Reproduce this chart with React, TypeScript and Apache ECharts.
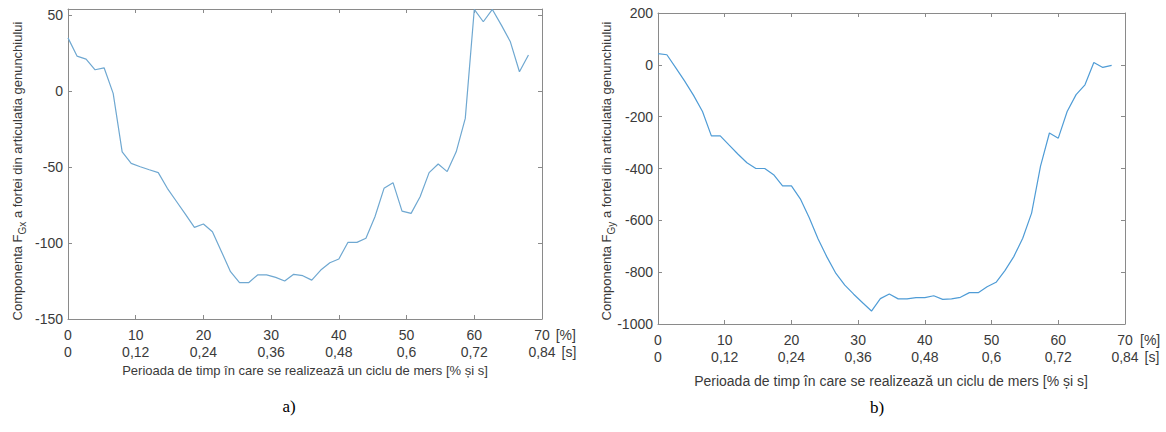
import React, { useEffect, useRef } from "react";
import * as echarts from "echarts";

// sampling grid of the gait cycle, in percent
const pctX = [
  0, 1.33, 2.67, 4, 5.33, 6.67, 8, 9.33, 10.67, 12, 13.33, 14.67, 16, 17.33, 18.67, 20,
  21.33, 22.67, 24, 25.33, 26.67, 28, 29.33, 30.67, 32, 33.33, 34.67, 36, 37.33, 38.67,
  40, 41.33, 42.67, 44, 45.33, 46.67, 48, 49.33, 50.67, 52, 53.33, 54.67, 56, 57.33,
  58.67, 60, 61.33, 62.67, 64, 65.33, 66.67, 68,
];

// F_Gx component (panel a)
const fgx = [
  35, 23, 21, 14, 15.3, -1.5, -40, -47.6, -49.8, -51.8, -53.7, -64, -72.5, -81, -89.7,
  -87.5, -92.6, -105.7, -118.9, -126.1, -126.1, -121, -121, -122.6, -125, -120.6, -121.5,
  -124.4, -117.8, -113, -110.5, -99.6, -99.6, -96.9, -82.7, -64, -60.3, -79, -80.5, -69.5,
  -53.7, -48, -53, -40, -18, 53.7, 45.6, 53.7, 43.4, 32.4, 12.7, 23.7,
];

// F_Gy component (panel b)
const fgy = [
  43, 39, -12, -63, -118, -180, -274, -274, -310, -345, -378, -400, -400, -424, -467, -467,
  -517, -590, -672, -742, -805, -850, -885, -918, -950, -902, -884, -903, -903, -898, -898,
  -891, -905, -903, -897, -879, -879, -856, -839, -794, -740, -669, -572, -392, -263, -283,
  -180, -115, -77, 9, -10, -2,
];

const pctLabels = ["0", "10", "20", "30", "40", "50", "60", "70"];
const secLabels = ["0", "0,12", "0,24", "0,36", "0,48", "0,6", "0,72", "0,84"];

const xTitle = "Perioada de timp în care se realizează un ciclu de mers [% și s]";

const FONT = "'Liberation Sans', Arial, sans-serif";
const LABEL_COLOR = "#3a3a3a";
const AXIS_COLOR = "#8a8a8a";

function xAxesFor(gridIndex: number, unitGap: number) {
  const base = { gridIndex, type: "value", min: 0, max: 70, interval: 10 };
  const lbl = { fontFamily: FONT, fontSize: 14, color: LABEL_COLOR };
  return [
    {
      ...base,
      position: "bottom",
      axisLine: { show: true, onZero: false, lineStyle: { color: AXIS_COLOR, width: 1 } },
      axisTick: { show: true, inside: true, length: 4, lineStyle: { color: AXIS_COLOR } },
      axisLabel: { show: false },
      splitLine: { show: false },
    },
    {
      ...base,
      position: "top",
      axisLine: { show: true, onZero: false, lineStyle: { color: AXIS_COLOR, width: 1 } },
      axisTick: { show: true, inside: true, length: 4, lineStyle: { color: AXIS_COLOR } },
      axisLabel: { show: false },
      splitLine: { show: false },
    },
    {
      ...base,
      position: "bottom",
      offset: 16,
      axisLine: { show: false, onZero: false },
      axisTick: { show: false },
      splitLine: { show: false },
      axisLabel: {
        ...lbl,
        margin: 0,
        verticalAlign: "middle",
        formatter: (v: number) => pctLabels[Math.round(v / 10)] ?? "",
      },
      name: "[%]",
      nameLocation: "end",
      nameGap: unitGap,
      nameTextStyle: { ...lbl, verticalAlign: "middle" },
    },
    {
      ...base,
      position: "bottom",
      offset: 33,
      axisLine: { show: false, onZero: false },
      axisTick: { show: false },
      splitLine: { show: false },
      axisLabel: {
        ...lbl,
        margin: 0,
        verticalAlign: "middle",
        formatter: (v: number) => secLabels[Math.round(v / 10)] ?? "",
      },
      name: "[s]",
      nameLocation: "end",
      nameGap: 6,
      nameTextStyle: { ...lbl, verticalAlign: "middle" },
    },
  ];
}

function yAxesFor(gridIndex: number, min: number, max: number, interval: number) {
  const base = { gridIndex, type: "value", min, max, interval };
  return [
    {
      ...base,
      position: "left",
      axisLine: { show: true, onZero: false, lineStyle: { color: AXIS_COLOR, width: 1 } },
      axisTick: { show: true, inside: true, length: 4, lineStyle: { color: AXIS_COLOR } },
      axisLabel: {
        fontFamily: FONT,
        fontSize: 14,
        color: LABEL_COLOR,
        margin: 5,
        showMaxLabel: max % interval === 0,
        formatter: (v: number) => String(v),
      },
      splitLine: { show: false },
    },
    {
      ...base,
      position: "right",
      axisLine: { show: true, onZero: false, lineStyle: { color: AXIS_COLOR, width: 1 } },
      axisTick: { show: true, inside: true, length: 4, lineStyle: { color: AXIS_COLOR } },
      axisLabel: { show: false },
      splitLine: { show: false },
    },
  ];
}

function yName(sub: string, x: number, y: number) {
  return {
    type: "text",
    x,
    y,
    rotation: Math.PI / 2,
    style: {
      text: `{n|Componenta F}{s|${sub}}{n| a fortei din articulatia genunchiului}`,
      align: "center",
      verticalAlign: "middle",
      fill: LABEL_COLOR,
      rich: {
        n: { fontFamily: FONT, fontSize: 13, fill: LABEL_COLOR, lineHeight: 20, verticalAlign: "middle" },
        s: {
          fontFamily: FONT,
          fontSize: 10,
          fill: LABEL_COLOR,
          lineHeight: 10,
          padding: [10, 0, 0, 0],
          verticalAlign: "middle",
        },
      },
    },
  };
}

export default function App() {
  const ref = useRef<HTMLDivElement>(null);

  useEffect(() => {
    if (!ref.current) return;
    const chart = echarts.init(ref.current, undefined, { renderer: "svg" });
    const option = {
      animation: false,
      backgroundColor: "#ffffff",
      grid: [
        { left: 68, top: 9, width: 474, height: 310 },
        { left: 658, top: 13, width: 467, height: 311 },
      ],
      xAxis: [...xAxesFor(0, 11), ...xAxesFor(1, 15)],
      yAxis: [...yAxesFor(0, -150, 54, 50), ...yAxesFor(1, -1000, 200, 200)],
      series: [
        {
          type: "line",
          xAxisIndex: 0,
          yAxisIndex: 0,
          data: pctX.map((x, i) => [x, fgx[i]]),
          showSymbol: false,
          lineStyle: { color: "#6fa8d1", width: 1.2 },
        },
        {
          type: "line",
          xAxisIndex: 4,
          yAxisIndex: 2,
          data: pctX.map((x, i) => [x, fgy[i]]),
          showSymbol: false,
          lineStyle: { color: "#4f9cd6", width: 1.2 },
        },
      ],
      graphic: [
        yName("Gx", 17, 171),
        yName("Gy", 606, 171),
        {
          type: "text",
          x: 305,
          y: 370,
          style: { text: xTitle, fontFamily: FONT, fontSize: 13, fill: LABEL_COLOR, align: "center", verticalAlign: "middle" },
        },
        {
          type: "text",
          x: 891,
          y: 381,
          style: { text: xTitle, fontFamily: FONT, fontSize: 14, fill: LABEL_COLOR, align: "center", verticalAlign: "middle" },
        },
        {
          type: "text",
          x: 289,
          y: 406,
          style: { text: "a)", fontFamily: "'Liberation Serif', 'Times New Roman', serif", fontSize: 17, fill: "#000", align: "center", verticalAlign: "middle" },
        },
        {
          type: "text",
          x: 877,
          y: 407,
          style: { text: "b)", fontFamily: "'Liberation Serif', 'Times New Roman', serif", fontSize: 17, fill: "#000", align: "center", verticalAlign: "middle" },
        },
      ],
    };
    chart.setOption(option as any);
    return () => chart.dispose();
  }, []);

  return <div ref={ref} style={{ position: "absolute", left: 0, top: 0, width: 1166, height: 432 }} />;
}
